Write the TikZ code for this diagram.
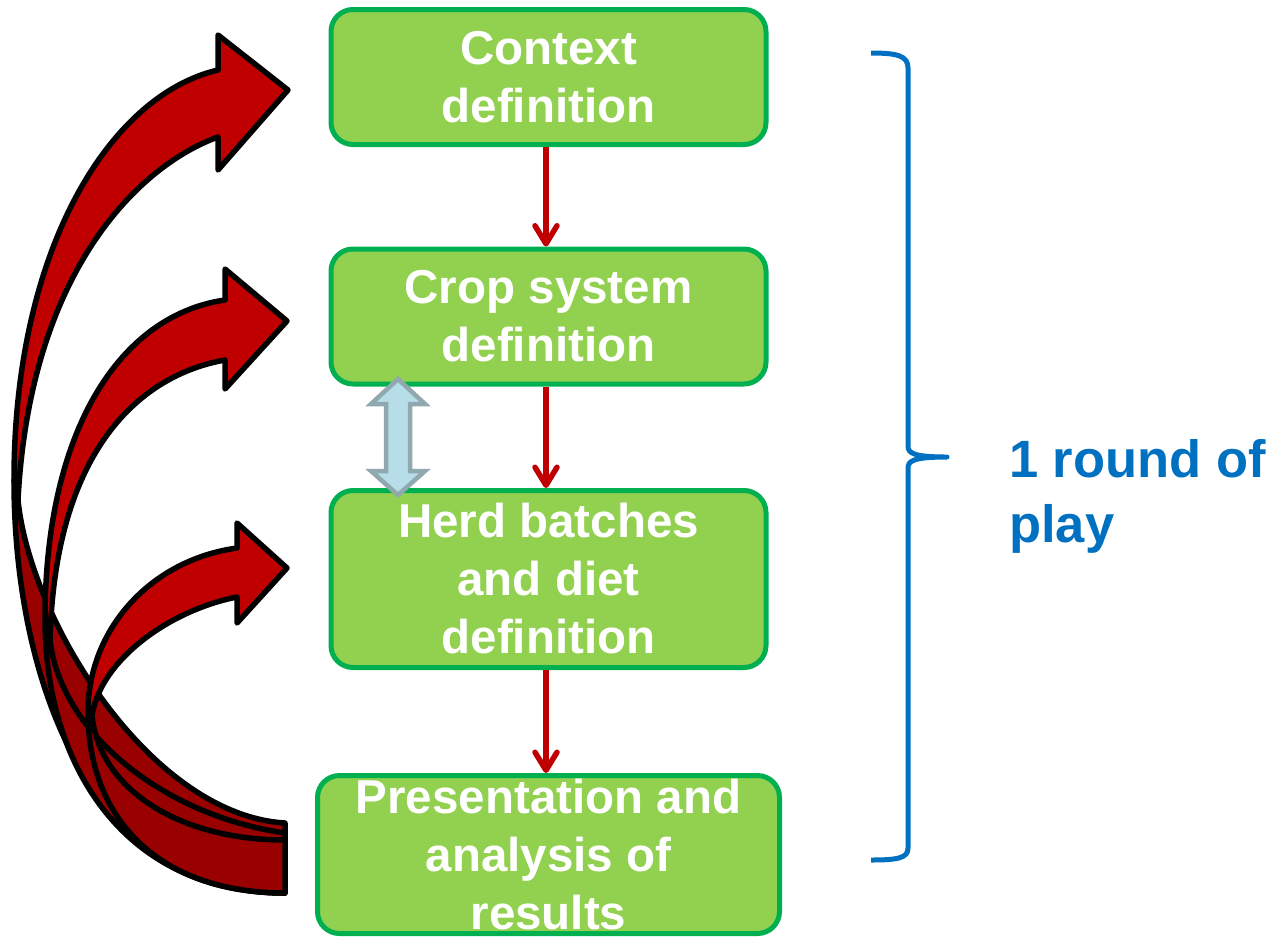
\documentclass[tikz,border=0pt]{standalone}
\usepackage{fontspec}
\setmainfont{Liberation Sans}
\usetikzlibrary{arrows.meta}
\definecolor{boxfill}{HTML}{92D050}
\definecolor{boxline}{HTML}{00B050}
\definecolor{redA}{HTML}{C00000}
\definecolor{redB}{HTML}{990000}
\definecolor{blueB}{HTML}{0070C0}
\definecolor{dafill}{HTML}{B7DEE8}
\definecolor{daline}{HTML}{8FA9AE}
\begin{document}
\begin{tikzpicture}[x=1pt,y=-1pt,
  stepbox/.style={draw=boxline, fill=boxfill, line width=5pt, rounded corners=22pt,
    text=white, font=\fontsize{47.5}{58}\selectfont\bfseries, align=center, inner sep=0pt},
  conn/.style={draw=redA, line width=5.5pt, -{Straight Barb[length=18pt,width=22pt,round]}},
  curvefront/.style={fill=redA, draw=black, line width=5.5pt, line join=round},
  curveback/.style={fill=redB, draw=black, line width=5.5pt, line join=round},
  dblarrow/.style={fill=dafill, draw=daline, line width=4.5pt},
  brace/.style={draw=blueB, line width=5pt, line join=round},
  lbl/.style={text=blueB, font=\fontsize{52.5}{65}\selectfont\bfseries, align=left, inner sep=0pt}]
\useasboundingbox (0,0) rectangle (1287,938);

% curved return arrows
\path[curveback] (14,480) .. controls (14,680) and (90,893) .. (285,893) -- (285,823) .. controls (150,815) and (30,620) .. (18,500) -- cycle;
\path[curvefront] (14,480) .. controls (14,249) and (110,95) .. (218,70) -- (218,35) -- (288,90) -- (218,170) -- (218,137) .. controls (140,165) and (30,270) .. (18,500) -- cycle;

\path[curveback] (45,620) .. controls (45,760) and (120,893) .. (285,893) -- (285,833) .. controls (160,815) and (60,730) .. (50,640) -- cycle;
\path[curvefront] (45,620) .. controls (45,430) and (120,315) .. (225,300) -- (225,269) -- (287,321) -- (225,389) -- (225,360) .. controls (140,375) and (55,450) .. (50,640) -- cycle;

\path[curveback] (88,712) .. controls (88,820) and (160,893) .. (285,893) -- (285,840) .. controls (180,840) and (100,790) .. (92,716) -- cycle;
\path[curvefront] (88,712) .. controls (88,630) and (150,560) .. (237,548) -- (237,523) -- (287,568) -- (237,623) -- (237,597) .. controls (170,610) and (100,660) .. (92,716) -- cycle;

% boxes
\node[stepbox, minimum width=435pt, minimum height=135pt] (b1) at (548.5,77) {Context\\definition};
\node[stepbox, minimum width=435pt, minimum height=135pt] (b2) at (548.5,316.5) {Crop system\\definition};
\node[stepbox, minimum width=435pt, minimum height=177pt] (b3) at (548.5,579) {Herd batches\\and diet\\definition};
\node[stepbox, minimum width=462pt, minimum height=158pt] (b4) at (548.5,854.5) {Presentation and\\analysis of\\results};

% connectors
\draw[conn] ([xshift=-2.5pt]b1.south) -- ([xshift=-2.5pt]b2.north);
\draw[conn] ([xshift=-2.5pt]b2.south) -- ([xshift=-2.5pt]b3.north);
\draw[conn] ([xshift=-2.5pt]b3.south) -- ([xshift=-2.5pt]b4.north);

% double arrow between crop system and herd batches
\path[dblarrow] (398,379) -- (425,404) -- (410,404) -- (410,471) -- (425,471) -- (398,495)
  -- (371,471) -- (386,471) -- (386,404) -- (371,404) -- cycle;

% brace
\draw[brace] (871,53) .. controls (898,53) and (908,56) .. (908,68) -- (908,446)
  .. controls (908,453) and (913,457) .. (947,457)
  .. controls (913,457) and (908,461) .. (908,468) -- (908,848)
  .. controls (908,858) and (898,860) .. (871,860);

\node[lbl, anchor=base west] (label) at (1009,542) {1 round of\\play};
\end{tikzpicture}
\end{document}
